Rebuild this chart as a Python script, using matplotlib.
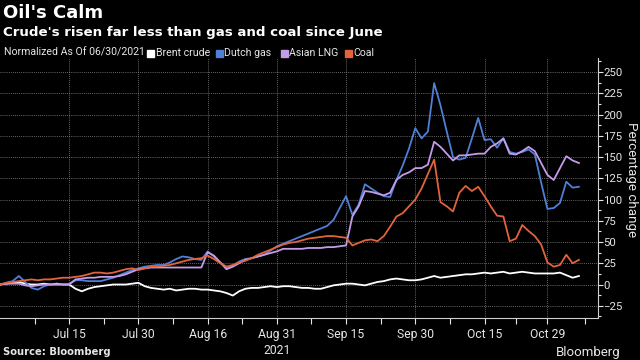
import numpy as np
import pandas as pd
import matplotlib
matplotlib.use("Agg")
import matplotlib.pyplot as plt
from matplotlib.patches import Rectangle

# trading days since 06/30/2021 (normalised % change)
dates = pd.bdate_range("2021-06-30", periods=93)

brent = [0, 1, 2, 3, 1, 0, 0, 1, 0, 1, 0, 0, -5, -8, -5, -3, -2, -1, 0, 0,
         0, 1, 2, -2, -4, -5, -6, -5, -7, -6, -5, -5, -6, -6, -7, -8, -10, -13, -8, -5,
         -4, -4, -3, -2, -3, -2, -2, -3, -4, -4, -5, -5, -3, -1, 0, 1, 1, 0, -1, 1,
         3, 4, 6, 7, 6, 5, 5, 6, 8, 10, 8, 9, 10, 11, 12, 12, 13, 14, 13, 14,
         15, 13, 14, 15, 14, 13, 13, 13, 13, 14, 11, 8, 10]

dutch_gas = [0, 2, 4, 10, 3, -4, -6, -2, 0, 0, 0, 1, 5, 5, 4, 4, 4, 6, 8, 11,
             14, 17, 19, 21, 22, 23, 23, 26, 30, 33, 32, 30, 29, 39, 33, 26, 20, 22, 27, 30,
             31, 33, 35, 40, 45, 48, 51, 54, 57, 60, 63, 66, 69, 76, 90, 104, 82, 94, 118, 113,
             108, 104, 103, 123, 140, 160, 184, 172, 180, 237, 211, 180, 150, 147, 149, 172, 196, 170, 171, 161,
             172, 156, 154, 156, 159, 153, 120, 89, 90, 96, 121, 114, 115]

asian_lng = [0, 1, 1, 1, -1, -2, -1, 0, 0, 0, 0, 0, 6, 7, 8, 8, 9, 9, 9, 10,
             12, 15, 18, 19, 20, 20, 20, 20, 20, 20, 20, 20, 20, 38, 34, 26, 18, 21, 25, 29,
             31, 33, 35, 37, 39, 42, 42, 42, 42, 43, 43, 43, 44, 44, 45, 46, 80, 92, 110, 109,
             107, 105, 108, 123, 129, 132, 137, 137, 141, 168, 162, 154, 146, 152, 152, 153, 154, 154, 162, 166,
             172, 154, 153, 157, 162, 157, 143, 129, 123, 137, 151, 146, 143]

coal = [0, 2, 3, 4, 5, 6, 5, 6, 6, 7, 8, 8, 9, 10, 12, 14, 14, 13, 14, 16,
        18, 19, 17, 19, 21, 21, 22, 23, 25, 27, 29, 30, 31, 34, 30, 25, 21, 23, 26, 28,
        31, 35, 38, 41, 44, 47, 49, 50, 52, 54, 55, 56, 57, 57, 56, 55, 46, 49, 52, 53,
        51, 57, 68, 80, 84, 92, 100, 113, 130, 147, 97, 92, 86, 108, 116, 110, 115, 104, 92, 81,
        80, 51, 54, 70, 63, 57, 47, 26, 21, 23, 35, 25, 29]

series = [("Brent crude", brent, "#ffffff"),
          ("Dutch gas", dutch_gas, "#4f7fd6"),
          ("Asian LNG", asian_lng, "#c59ce8"),
          ("Coal", coal, "#e2643c")]

tick_dates = ["2021-07-15", "2021-07-30", "2021-08-16", "2021-08-31",
              "2021-09-15", "2021-09-30", "2021-10-15", "2021-10-29"]

BG = "black"
FG = "#e6e6e6"
NARROW = ["Roboto", "DejaVu Sans"]

fig = plt.figure(figsize=(6.4, 3.6), dpi=100, facecolor=BG)
ax = fig.add_axes([0.0, 0.1167, 0.934, 0.722], facecolor=BG)

x = np.arange(len(dates))
for name, vals, col in series:
    ax.plot(x, vals, color=col, lw=1.3, solid_joinstyle="round")

ax.set_xlim(0, 95)
ax.set_ylim(-39.4, 266.5)

# x ticks on trading-day index
pos = [dates.get_loc(pd.Timestamp(d)) for d in tick_dates]
labels = [pd.Timestamp(d).strftime("%b %d").replace(" 0", " ") for d in tick_dates]
labels[3] = labels[3] + "\n2021"
ax.set_xticks(pos)
ax.set_xticklabels(labels, family=NARROW, fontsize=8.7, color=FG, linespacing=1.3)
mids = [(a + b) / 2 for a, b in zip([0] + pos, pos + [99])]
ax.set_xticks(mids, minor=True)

ax.yaxis.tick_right()
ax.set_yticks(np.arange(-25, 251, 25))
ax.set_yticks(np.arange(-37.5, 265, 12.5), minor=True)
ax.tick_params(axis="y", labelsize=8.2, colors=FG, length=3.5, width=0.8, pad=0.5)
ax.tick_params(axis="y", which="minor", colors=FG, length=2.5, width=0.8)
ax.tick_params(axis="x", colors=FG, length=4, width=0.8, pad=3)
ax.tick_params(axis="x", which="minor", colors=FG, length=4, width=0.8)
for lab in ax.get_yticklabels():
    lab.set_family(NARROW)

fig.text(0.987, 0.5, "Percentage change", rotation=270, color=FG,
         fontsize=9.6, family=NARROW, va="center", ha="center")

ax.grid(True, color="#8a8a8a", ls=(0, (1, 1.5)), lw=0.6)
for s in ["top", "left"]:
    ax.spines[s].set_visible(False)
for s in ["right", "bottom"]:
    ax.spines[s].set_color("#cfcfcf")
    ax.spines[s].set_linewidth(0.8)

# title block
fig.text(0.004, 0.965, "Oil's Calm", color="white", fontsize=13,
         fontweight="bold", va="center", ha="left")
fig.text(0.004, 0.91, "Crude's risen far less than gas and coal since June",
         color="white", fontsize=9.6, fontweight="bold", va="center", ha="left")

# legend row
ly = 0.853
fig.text(0.006, ly, "Normalized As Of 06/30/2021", color=FG, fontsize=7.6,
         family=NARROW, va="center", ha="left")
leg_x = [0.230, 0.337, 0.439, 0.539]
for (name, vals, col), lx in zip(series, leg_x):
    fig.patches.append(Rectangle((lx, ly - 0.011), 0.011, 0.02, color=col,
                                 transform=fig.transFigure, figure=fig))
    fig.text(lx + 0.013, ly, name, color=FG, fontsize=7.6, family=NARROW,
             va="center", ha="left")

fig.text(0.004, 0.022, "Source: Bloomberg", color=FG, fontsize=7.2,
         fontweight="bold", va="center", ha="left")
fig.text(0.97, 0.022, "Bloomberg", color=FG, fontsize=9.5, family=NARROW,
         va="center", ha="right")

fig.savefig("out.png", dpi=100, facecolor=BG)
